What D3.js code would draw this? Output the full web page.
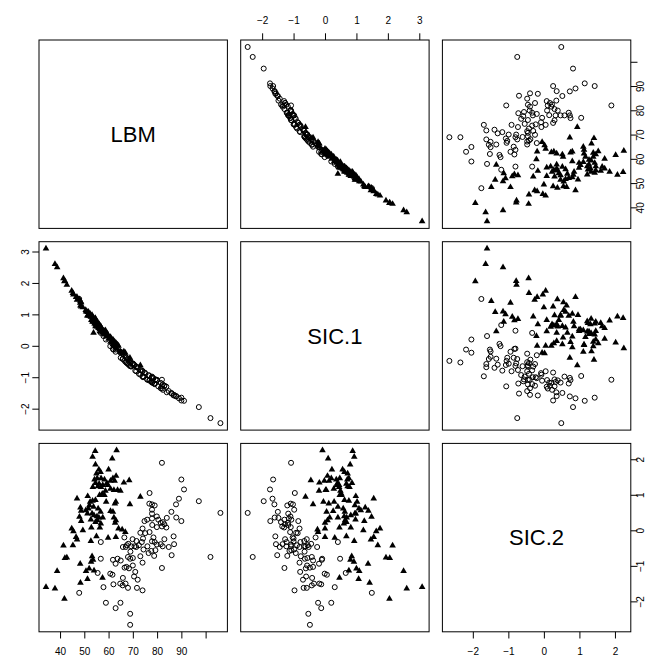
<!DOCTYPE html>
<html>
<head>
<meta charset="utf-8">
<script src="https://cdn.jsdelivr.net/npm/d3@7"></script>
<style>
  body { margin: 0; background: #fff; }
  svg { display: block; font-family: "Liberation Sans", Arial, sans-serif; }
</style>
</head>
<body>
<svg id="chart" width="662" height="665"></svg>
<script>
// variables shown on the diagonal
const varNames = ["LBM", "SIC.1", "SIC.2"];

// group drawn with filled triangles
const triLBM = [54.5, 63.3, 53.4, 61.5, 54.6, 56.0, 56.7, 60.0, 63.1, 54.2,
  55.3, 56.9, 54.6, 56.1, 58.3, 59.3, 60.8, 61.8, 62.5, 66.3,
  68.5, 53.5, 55.6, 56.9, 59.6, 60.8, 62.2, 63.7, 64.9, 58.7,
  56.3, 58.3, 51.4, 47.0, 53.4, 52.4, 54.6, 59.0, 62.6, 63.0,
  68.8, 73.1, 48.4, 48.7, 51.7, 53.8, 55.7, 56.7, 60.8, 61.8,
  48.0, 51.3, 53.2, 55.2, 56.0, 57.6, 62.2, 63.0, 48.7, 52.7,
  54.6, 56.8, 52.9, 56.4, 62.7, 64.1, 65.6, 66.9, 44.8, 45.5,
  46.6, 47.0, 41.4, 52.7, 55.0, 59.8, 63.0, 42.8, 53.2, 53.6,
  52.8, 48.3, 50.7, 52.0, 54.0, 57.5, 38.8, 34.2, 37.9, 41.8,
  48.4, 51.3, 55.0, 57.6, 54.0, 50.6, 55.4, 57.4, 52.1, 49.4,
  42.0, 45.3];
const triSIC1 = [0.88, -0.08, 0.93, 0.10, 0.80, 0.56, 0.62, 0.22, 0.08, 0.71,
  0.76, 0.47, 0.86, 0.68, 0.36, 0.40, 0.13, 0.20, -0.02, -0.18,
  -0.45, 0.78, 0.72, 0.45, 0.37, 0.28, 0.02, 0.04, -0.19, 0.49,
  0.52, 0.47, 0.98, 1.55, 0.76, 1.02, 0.62, 0.29, 0.12, -0.05,
  -0.38, -0.62, 1.28, 1.38, 1.08, 0.41, 0.58, 0.63, 0.26, 0.05,
  1.48, 0.95, 0.98, 0.61, 0.69, 0.41, 0.15, 0.08, 1.25, 0.97,
  0.68, 0.60, 0.82, 0.46, 0.00, 0.00, -0.24, -0.22, 1.75, 1.63,
  1.55, 1.46, 2.15, 0.93, 0.68, 0.31, 0.00, 1.94, 0.85, 0.81,
  0.92, 1.37, 1.09, 1.00, 0.76, 0.46, 2.50, 3.09, 2.60, 2.05,
  1.42, 1.07, 0.72, 0.45, 0.82, 1.14, 0.64, 0.52, 0.95, 1.22,
  2.06, 1.68];
const triSIC2 = [2.23, 2.25, 2.07, 2.02, 1.85, 1.71, 1.64, 1.71, 1.53, 1.43,
  1.46, 1.46, 1.33, 1.31, 1.43, 1.33, 1.39, 1.46, 1.39, 1.34,
  1.41, 1.22, 1.24, 1.22, 1.27, 1.17, 1.13, 1.13, 1.11, 1.11,
  0.99, 0.99, 0.96, 0.89, 0.83, 0.80, 0.85, 0.80, 0.75, 0.80,
  0.73, 0.94, 0.64, 0.55, 0.61, 0.66, 0.61, 0.52, 0.54, 0.52,
  0.38, 0.47, 0.47, 0.39, 0.36, 0.36, 0.36, 0.28, 0.26, 0.30,
  0.23, 0.19, 0.08, 0.08, 0.21, 0.05, 0.02, -0.05, 0.05, -0.03,
  -0.19, -0.26, -0.43, -0.30, -0.17, -0.21, -0.19, -0.77, -0.73, -0.83,
  -0.89, -0.94, -1.15, -1.08, -1.13, -1.34, -1.15, -1.60, -1.64, -1.93,
  -1.48, -1.37, 1.60, 1.27, 0.42, 0.56, 0.28, 1.03, 0.70, 0.00,
  -0.78, -0.42];

// group drawn with open circles
const circLBM = [82.0, 90.0, 91.1, 89.0, 97.2, 106.1, 87.8, 85.9, 87.9, 90.0,
  76.9, 76.8, 77.9, 79.0, 77.9, 77.9, 79.9, 77.9, 74.8, 75.9,
  81.5, 82.4, 83.0, 82.0, 79.9, 83.8, 86.8, 73.1, 75.1, 76.9,
  69.9, 67.5, 68.1, 69.3, 70.7, 71.4, 65.9, 67.1, 73.7, 74.2,
  77.9, 79.0, 79.9, 81.5, 82.3, 84.8, 87.0, 77.6, 79.3, 78.8,
  76.5, 74.4, 73.1, 86.0, 102.0, 56.8, 56.8, 61.8, 63.7, 62.9,
  68.0, 68.9, 70.0, 66.6, 67.4, 68.4, 70.0, 71.0, 74.0, 82.0,
  60.7, 61.6, 65.9, 72.0, 62.0, 64.8, 65.8, 67.0, 57.9, 68.0,
  71.7, 74.0, 47.9, 58.9, 64.9, 62.9, 68.9, 68.9, 55.5, 71.5,
  72.5, 78.5, 80.5, 74.0, 69.0, 76.0, 83.0, 65.0, 70.5, 78.0,
  66.5, 84.0];
const circSIC1 = [-1.08, -1.65, -1.75, -1.67, -1.95, -2.46, -1.61, -1.50, -1.60, -1.74,
  -0.96, -1.09, -1.02, -1.20, -0.98, -1.17, -1.10, -1.15, -0.85, -1.07,
  -1.18, -1.40, -1.27, -1.36, -1.09, -1.30, -1.58, -0.92, -0.87, -1.11,
  -0.58, -0.55, -0.44, -0.66, -0.62, -0.81, -0.25, -0.52, -0.78, -1.00,
  -1.00, -1.22, -1.08, -1.35, -1.23, -1.44, -1.56, -1.13, -1.07, -1.20,
  -0.93, -0.98, -0.77, -1.52, -2.30, 0.41, 0.48, -0.10, -0.09, -0.19,
  -0.42, -0.64, -0.56, -0.48, -0.38, -0.61, -0.57, -0.79, -0.81, -1.29,
  -0.01, 0.06, -0.41, -0.70, -0.12, -0.18, -0.42, -0.35, 0.31, -0.58,
  -0.68, -0.97, 1.49, 0.20, -0.22, -0.12, -0.53, -0.48, 0.66, -0.66,
  -0.89, -1.03, -1.29, -0.81, -0.65, -1.08, -1.27, -0.38, -0.60, -1.17,
  -0.30, -1.48];
const circSIC2 = [1.90, 1.43, 1.15, 0.89, 0.82, 0.49, 0.73, 0.52, 0.36, 0.26,
  1.05, 0.75, 0.73, 0.70, 0.58, 0.47, 0.39, 0.33, 0.26, 0.30,
  0.21, 0.23, 0.17, 0.11, 0.09, 0.08, -0.17, -0.07, -0.08, -0.05,
  -0.25, -0.42, -0.38, -0.45, -0.45, -0.47, -0.47, -0.47, -0.33, -0.23,
  -0.31, -0.33, -0.40, -0.39, -0.45, -0.47, -0.39, -0.58, -0.56, -0.72,
  -0.64, -0.54, -0.73, -0.70, -0.75, -0.33, -0.80, -0.83, -0.80, -0.94,
  -0.75, -0.80, -0.78, -1.05, -1.03, -1.07, -0.99, -1.17, -0.91, -1.06,
  -1.22, -1.25, -1.34, -1.39, -1.52, -1.50, -1.55, -1.50, -1.60, -1.62,
  -1.62, -1.69, -1.76, -2.04, -2.04, -2.19, -2.35, -2.66, -1.20, -0.30,
  -0.42, -0.20, 0.30, 0.05, -0.60, -0.45, -0.25, -0.85, -1.30, 0.15,
  -0.20, 0.35];

// axis ticks
const lbmTicks = [40, 50, 60, 70, 80, 90, 100];
const lbmTickLabels = ["40", "50", "60", "70", "80", "90", ""];
const sic1Ticks = [-2, -1, 0, 1, 2, 3];
const sic2Ticks = [-2, -1, 0, 1, 2];

const svg = d3.select("#chart");
const padLeft = 39, padTop = 40, size = 188.4, gap = 13.3;
const tickLen = 6.7;

// rows of points: values in varNames order + shape
const points = [];
triLBM.forEach((v, k) => points.push({ vals: [v, triSIC1[k], triSIC2[k]], shape: "tri" }));
circLBM.forEach((v, k) => points.push({ vals: [v, circSIC1[k], circSIC2[k]], shape: "circ" }));

// R-style 4% padded domains
const domains = varNames.map((_, k) => {
  const ext = d3.extent(points, d => d.vals[k]);
  const pad = (ext[1] - ext[0]) * 0.04;
  return [ext[0] - pad, ext[1] + pad];
});

const tickSets = [
  { values: lbmTicks, fmt: (d, i) => lbmTickLabels[i] },
  { values: sic1Ticks, fmt: d => d3.format("d")(d) },
  { values: sic2Ticks, fmt: d => d3.format("d")(d) }
];

const tri = d3.symbol(d3.symbolTriangle, 19)();

function styleAxis(g) {
  g.attr("font-size", 10).attr("font-family", "'Liberation Sans', Arial, sans-serif");
  g.select(".domain").remove();
  g.selectAll("line").attr("stroke", "#000");
  g.selectAll("text").attr("fill", "#000");
}

for (let i = 0; i < 3; i++) {
  for (let j = 0; j < 3; j++) {
    const x0 = padLeft + j * (size + gap), y0 = padTop + i * (size + gap);
    const g = svg.append("g").attr("transform", `translate(${x0},${y0})`);
    const x = d3.scaleLinear().domain(domains[j]).range([0, size]);
    const y = d3.scaleLinear().domain(domains[i]).range([size, 0]);

    if (i === j) {
      g.append("text")
        .attr("x", size / 2).attr("y", size / 2)
        .attr("dy", "0.35em")
        .attr("text-anchor", "middle")
        .attr("font-size", 22)
        .text(varNames[i]);
    } else {
      g.selectAll(".circ")
        .data(points.filter(d => d.shape === "circ"))
        .enter().append("circle")
        .attr("cx", d => x(d.vals[j]))
        .attr("cy", d => y(d.vals[i]))
        .attr("r", 2.5)
        .attr("fill", "none")
        .attr("stroke", "#000")
        .attr("stroke-width", 1);
      g.selectAll(".tri")
        .data(points.filter(d => d.shape === "tri"))
        .enter().append("path")
        .attr("d", tri)
        .attr("transform", d => `translate(${x(d.vals[j])},${y(d.vals[i])})`)
        .attr("fill", "#000");
    }

    // axes on alternating outer sides, as pairs() does
    if (i === 0 && j % 2 === 1) {
      g.append("g").call(d3.axisTop(x).tickValues(tickSets[j].values)
        .tickFormat(tickSets[j].fmt).tickSize(tickLen).tickPadding(9)).call(styleAxis);
    }
    if (i === 2 && j % 2 === 0) {
      g.append("g").attr("transform", `translate(0,${size})`)
        .call(d3.axisBottom(x).tickValues(tickSets[j].values)
        .tickFormat(tickSets[j].fmt).tickSize(tickLen).tickPadding(9.3)).call(styleAxis);
    }
    if (j === 0 && i % 2 === 1) {
      g.append("g").call(d3.axisLeft(y).tickValues(tickSets[i].values)
        .tickFormat(tickSets[i].fmt).tickSize(tickLen)).call(styleAxis)
        .selectAll("text")
        .attr("x", null).attr("dy", "0.35em")
        .attr("text-anchor", "middle")
        .attr("transform", "translate(-14,0) rotate(-90)");
    }
    if (j === 2 && i % 2 === 0) {
      g.append("g").attr("transform", `translate(${size},0)`)
        .call(d3.axisRight(y).tickValues(tickSets[i].values)
        .tickFormat(tickSets[i].fmt).tickSize(tickLen)).call(styleAxis)
        .selectAll("text")
        .attr("x", null).attr("dy", "0.35em")
        .attr("text-anchor", "middle")
        .attr("transform", "translate(9.5,0) rotate(-90)");
    }

    g.append("rect")
      .attr("width", size).attr("height", size)
      .attr("fill", "none")
      .attr("stroke", "#000")
      .attr("stroke-width", 1);
  }
}
</script>
</body>
</html>
